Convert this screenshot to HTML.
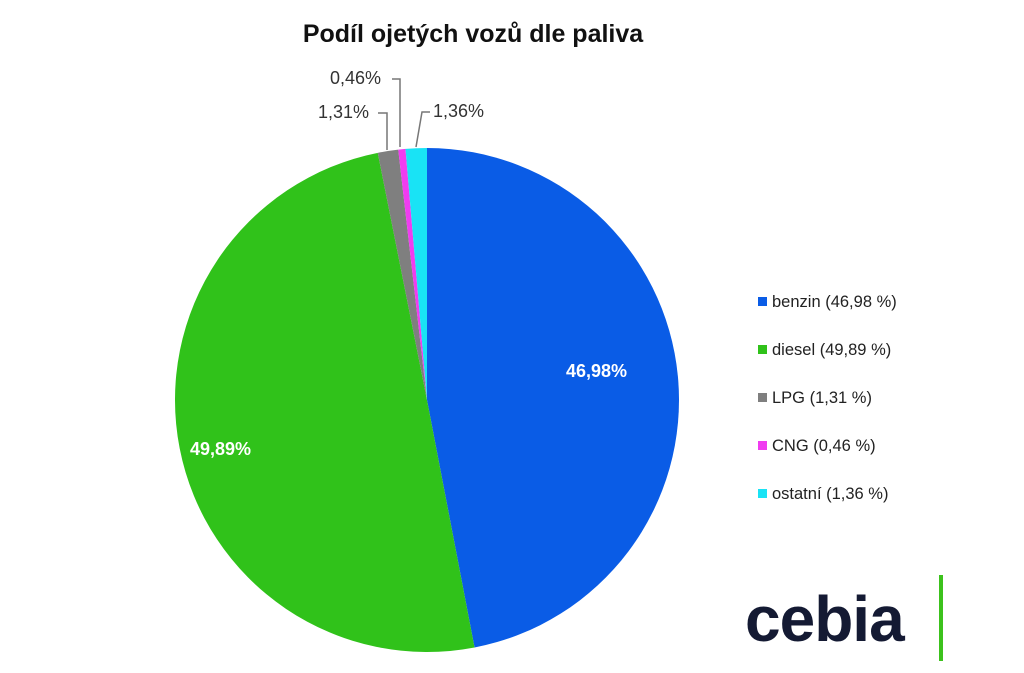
<!DOCTYPE html>
<html><head><meta charset="utf-8"><style>
body{margin:0;background:#fff;}
svg{display:block;font-family:"Liberation Sans",sans-serif;}
</style></head><body>
<svg id="c" width="1024" height="673">
<text x="473" y="42" text-anchor="middle" font-size="25" font-weight="bold" fill="#111">Podíl ojetých vozů dle paliva</text>
<g id="slices"></g>
<g id="legend"></g>
<path d="M392 79 H400 V147" fill="none" stroke="#777" stroke-width="1.5"/>
<path d="M378 113 H387 V150" fill="none" stroke="#777" stroke-width="1.5"/>
<path d="M430 112 H422 L416 147" fill="none" stroke="#777" stroke-width="1.5"/>
<text x="330" y="84" font-size="18" fill="#333">0,46%</text>
<text x="318" y="118" font-size="18" fill="#333">1,31%</text>
<text x="433" y="117" font-size="18" fill="#333">1,36%</text>
<text x="566" y="377" font-size="18" font-weight="bold" fill="#fff">46,98%</text>
<text x="190" y="455" font-size="18" font-weight="bold" fill="#fff">49,89%</text>
<text x="745" y="641" font-size="64" font-weight="bold" fill="#141a33" letter-spacing="-1">cebia</text>
<rect x="939" y="575" width="4" height="86" fill="#3cc21c"/>
</svg>
<script>
const categories=["benzin","diesel","LPG","CNG","ostatní"];
const values=[46.98,49.89,1.31,0.46,1.36];
const legendLabels=["benzin (46,98 %)","diesel (49,89 %)","LPG (1,31 %)","CNG (0,46 %)","ostatní (1,36 %)"];
const colors=["#0a5ce6","#30c21a","#7f7f7f","#f03cf0","#19e3f5"];
const NS="http://www.w3.org/2000/svg";
const cx=427,cy=400,r=252;
const total=values.reduce((a,b)=>a+b,0);
let a=0;
const g=document.getElementById('slices');
values.forEach((v,i)=>{
  const a0=a/total*2*Math.PI, a1=(a+v)/total*2*Math.PI; a+=v;
  const x0=cx+r*Math.sin(a0),y0=cy-r*Math.cos(a0),x1=cx+r*Math.sin(a1),y1=cy-r*Math.cos(a1);
  const p=document.createElementNS(NS,'path');
  p.setAttribute('d',`M${cx} ${cy} L${x0} ${y0} A${r} ${r} 0 ${a1-a0>Math.PI?1:0} 1 ${x1} ${y1} Z`);
  p.setAttribute('fill',colors[i]);
  
  
  g.appendChild(p);
});
const lg=document.getElementById('legend');
legendLabels.forEach((t,i)=>{
  const y=302+i*48;
  const s=document.createElementNS(NS,'rect');
  s.setAttribute('x',758);s.setAttribute('y',y-5);s.setAttribute('width',9);s.setAttribute('height',9);s.setAttribute('fill',colors[i]);
  
  
  lg.appendChild(s);
  const tx=document.createElementNS(NS,'text');
  tx.setAttribute('x',772);tx.setAttribute('y',y+5);tx.setAttribute('font-size',16.5);tx.setAttribute('fill','#222');
  tx.textContent=t;
  
  
  lg.appendChild(tx);
});
</script>
</body></html>
